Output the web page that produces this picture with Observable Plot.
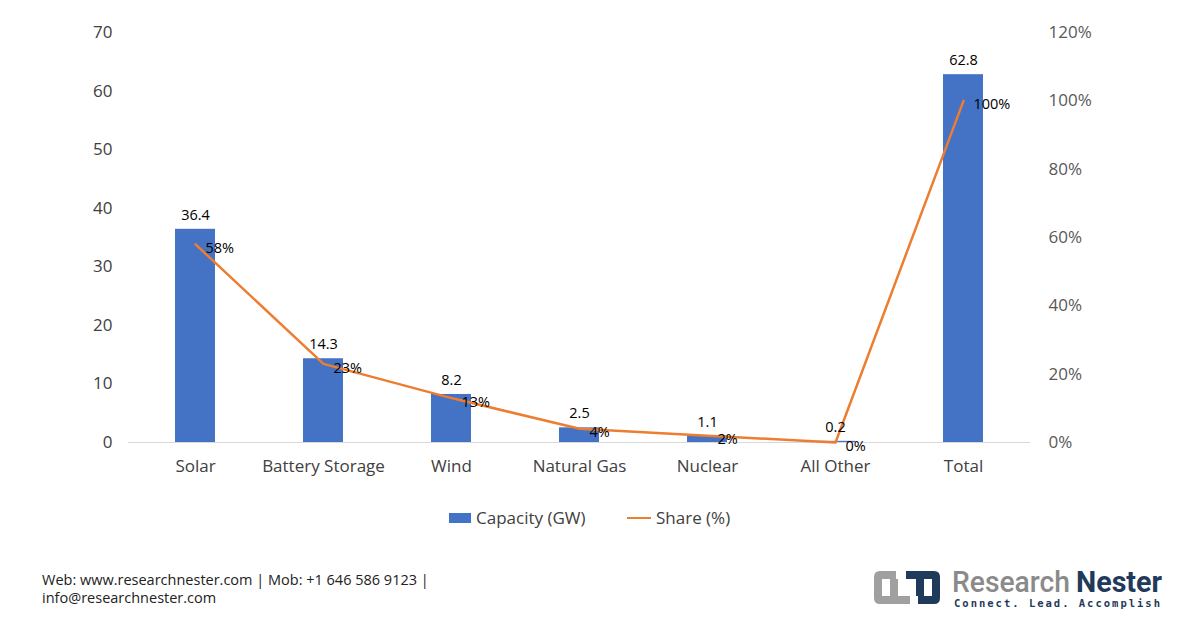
<!DOCTYPE html>
<html><head><meta charset="utf-8">
<script src="https://cdn.jsdelivr.net/npm/d3@7"></script>
<script src="https://cdn.jsdelivr.net/npm/@observablehq/plot@0.6"></script>
<style>
body{margin:0;background:#fff;font-family:"Open Sans",sans-serif;}
#wrap{position:relative;width:1200px;height:628px;overflow:hidden;}
#chart{position:absolute;left:0;top:0;}
.leg{position:absolute;top:506px;font-size:17px;color:#404040;display:flex;align-items:center;}
.foot{position:absolute;left:42px;top:571px;font-size:14.5px;color:#222;line-height:18px;}
</style></head><body>
<div id="wrap">
<div id="chart"></div>
<div class="leg" style="left:449px"><span style="display:inline-block;width:22px;height:10px;background:#4472C4;margin-right:5px"></span>Capacity (GW)</div>
<div class="leg" style="left:627px"><span style="display:inline-block;width:24px;height:2px;background:#ED7D31;margin-right:5px"></span>Share (%)</div>
<div class="foot">Web: www.researchnester.com | Mob: +1 646 586 9123 |<br>info@researchnester.com</div>
<svg style="position:absolute;left:866px;top:562px" width="300" height="50">
 <path d="M30 9 H14 Q8 9 8 15 V36 Q8 42 14 42 H44 V34 H16 V17 H30 Z" fill="#a0a0a0"/>
 <path d="M24 17 H32 V34 H24 Z" fill="#a0a0a0"/>
 <path d="M40 9 H68 Q74 9 74 15 V36 Q74 42 68 42 H52 V34 H66 V17 H40 Z" fill="#1f3a5a"/>
 <path d="M50 17 H58 V34 H50 Z" fill="#1f3a5a"/>
 <text x="86" y="30" font-family="Roboto" font-weight="500" font-size="30" fill="#8a8a8a" textLength="118" lengthAdjust="spacingAndGlyphs">Research</text>
 <text x="210" y="30" font-family="Roboto" font-weight="700" font-size="30" fill="#1f3a5a" textLength="86" lengthAdjust="spacingAndGlyphs">Nester</text>
 <text x="88" y="45" font-family="DejaVu Sans Mono" font-weight="700" font-size="10.5" fill="#1f3a5a" textLength="206" lengthAdjust="spacing">Connect. Lead. Accomplish</text>
</svg>
</div>
<script>
const categories=["Solar","Battery Storage","Wind","Natural Gas","Nuclear","All Other","Total"];
const capacity=[36.4,14.3,8.2,2.5,1.1,0.2,62.8];
const share=[58,23,13,4,2,0,100];
const leftTicks=[0,10,20,30,40,50,60,70];
const rightTicks=[0,20,40,60,80,100,120];
const data=categories.map((c,i)=>({c,cap:capacity[i],sh:share[i],shY:share[i]*70/120}));
const plot=Plot.plot({
 width:1200,height:490,marginTop:32,marginBottom:48,marginLeft:128,marginRight:170,
 style:{fontFamily:"Open Sans",fontSize:"17px",color:"#404040",background:"transparent"},
 x:{domain:categories,paddingInner:0.69,paddingOuter:0.345,label:null},
 y:{domain:[0,70],label:null},
 marks:[
  Plot.ruleY([0],{stroke:"#d9d9d9"}),
  Plot.barY(data,{x:"c",y:"cap",fill:"#4472C4"}),
  Plot.line(data,{x:"c",y:"shY",stroke:"#ED7D31",strokeWidth:2.5}),
  Plot.text(data,{x:"c",y:"cap",text:d=>d.cap.toFixed(1),dy:-14,fontSize:14.5,fill:"#000"}),
  Plot.text(data,{x:"c",y:"shY",text:d=>d.sh+"%",dx:10,dy:4,textAnchor:"start",fontSize:14.5,fill:"#000"}),
  Plot.axisX({tickSize:0,tickPadding:17,fontSize:17}),
  Plot.axisY({ticks:leftTicks,tickSize:0,tickPadding:16,fontSize:17,label:null}),
  Plot.axisY({anchor:"right",ticks:rightTicks.map(v=>v*70/120),tickFormat:v=>Math.round(v*120/70)+"%",tickSize:0,tickPadding:18,fontSize:17,label:null,fill:"#595959"})
 ]
});
document.getElementById("chart").appendChild(plot);
</script>
</body></html>
